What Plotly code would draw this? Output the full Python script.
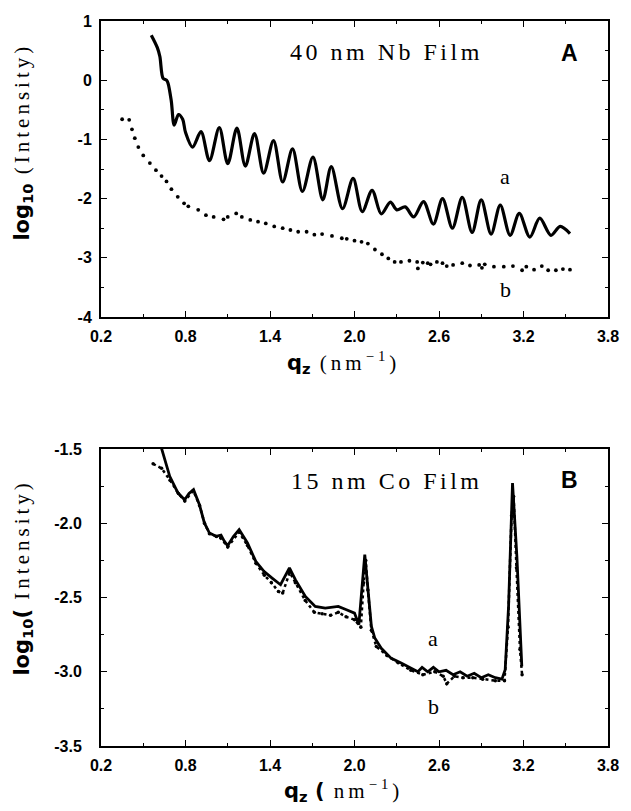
import plotly.graph_objects as go

# ---------------- data ----------------
# Panel A, curve a (solid): qz (nm^-1), log10(I)
qa_A = [0.557, 0.60, 0.618, 0.641, 0.665, 0.676, 0.699, 0.72, 0.75, 0.78, 0.80,
        0.85, 0.91, 0.97, 1.04, 1.10, 1.165, 1.225, 1.29, 1.355, 1.425, 1.49,
        1.56, 1.63, 1.705, 1.775, 1.835, 1.915, 1.99, 2.055, 2.125, 2.19, 2.255,
        2.30, 2.36, 2.42, 2.49, 2.56, 2.625, 2.695, 2.765, 2.835, 2.90, 2.97,
        3.035, 3.105, 3.17, 3.245, 3.315, 3.395, 3.46, 3.53]
ia_A = [0.76, 0.55, 0.40, 0.03, 0.00, -0.05, -0.35, -0.76, -0.58, -0.66, -0.88,
        -1.13, -0.87, -1.36, -0.80, -1.41, -0.81, -1.45, -0.90, -1.57, -1.02, -1.72,
        -1.16, -1.88, -1.30, -2.02, -1.46, -2.17, -1.66, -2.22, -1.86, -2.26, -2.06,
        -2.19, -2.14, -2.31, -2.05, -2.43, -2.00, -2.50, -1.98, -2.57, -2.02, -2.60,
        -2.11, -2.62, -2.25, -2.65, -2.33, -2.62, -2.47, -2.59]

# Panel A, curve b (dotted)
qb_A = [0.35, 0.40, 0.42, 0.44, 0.465, 0.50, 0.547, 0.59, 0.63, 0.665, 0.70, 0.745,
        0.79, 0.82, 0.89, 0.945, 1.00, 1.07, 1.10, 1.16, 1.20, 1.26, 1.315, 1.37,
        1.43, 1.49, 1.545, 1.60, 1.66, 1.715, 1.77, 1.84, 1.91, 1.945, 2.00, 2.05,
        2.095, 2.145, 2.195, 2.24, 2.285, 2.33, 2.39, 2.445, 2.45, 2.485, 2.52,
        2.54, 2.585, 2.625, 2.655, 2.70, 2.765, 2.82, 2.885, 2.905, 2.925, 2.99,
        3.06, 3.125, 3.19, 3.22, 3.275, 3.33, 3.375, 3.43, 3.48, 3.53]
ib_A = [-0.66, -0.67, -0.83, -0.98, -1.13, -1.27, -1.40, -1.52, -1.62, -1.71, -1.84,
        -1.97, -2.08, -2.13, -2.19, -2.28, -2.31, -2.35, -2.31, -2.25, -2.31, -2.36,
        -2.39, -2.42, -2.47, -2.50, -2.53, -2.56, -2.56, -2.61, -2.60, -2.63, -2.67,
        -2.68, -2.71, -2.73, -2.76, -2.86, -2.94, -3.01, -3.07, -3.07, -3.05, -3.07,
        -3.18, -3.08, -3.09, -3.11, -3.07, -3.09, -3.14, -3.12, -3.09, -3.13, -3.12,
        -3.17, -3.11, -3.15, -3.15, -3.14, -3.21, -3.15, -3.20, -3.14, -3.21, -3.21,
        -3.19, -3.20]

# Panel B, curve a (solid)
qa_B = [0.625, 0.688, 0.747, 0.794, 0.825, 0.857, 0.899, 0.934, 0.97, 1.017, 1.052,
        1.075, 1.099, 1.14, 1.181, 1.24, 1.299, 1.357, 1.415, 1.475, 1.538, 1.58,
        1.651, 1.721, 1.792, 1.85, 1.885, 1.943, 2.0, 2.031, 2.073, 2.12, 2.144,
        2.19, 2.261, 2.331, 2.39, 2.425, 2.45, 2.48, 2.52, 2.56, 2.60, 2.65, 2.70,
        2.75, 2.80, 2.85, 2.90, 2.95, 3.00, 3.047, 3.07, 3.094, 3.122, 3.153,
        3.176, 3.188]
ia_B = [-1.48, -1.684, -1.797, -1.842, -1.80, -1.774, -1.875, -1.998, -2.066, -2.088,
        -2.080, -2.12, -2.151, -2.09, -2.043, -2.133, -2.257, -2.324, -2.369, -2.414,
        -2.301, -2.38, -2.493, -2.56, -2.571, -2.565, -2.56, -2.582, -2.605, -2.683,
        -2.212, -2.695, -2.773, -2.842, -2.91, -2.941, -2.97, -2.986, -3.00, -2.97,
        -3.00, -2.97, -3.00, -2.99, -3.02, -3.00, -3.03, -3.01, -3.04, -3.02, -3.04,
        -3.05, -2.986, -2.56, -1.729, -2.223, -2.786, -2.964]

# Panel B, curve b (dots)
qb_B = [0.57, 0.63, 0.69, 0.75, 0.795, 0.855, 0.90, 0.935, 0.97, 1.02, 1.05, 1.10,
        1.18, 1.24, 1.30, 1.36, 1.41, 1.46, 1.49, 1.54, 1.58, 1.65, 1.715, 1.77,
        1.83, 1.885, 1.94, 2.00, 2.045, 2.065, 2.08, 2.095, 2.12, 2.155, 2.23, 2.31,
        2.40, 2.485, 2.57, 2.63, 2.655, 2.71, 2.77, 2.84, 2.91, 3.00, 3.065, 3.09,
        3.115, 3.13, 3.15, 3.175, 3.19]
ib_B = [-1.60, -1.63, -1.71, -1.80, -1.85, -1.78, -1.88, -2.00, -2.07, -2.09, -2.10,
        -2.16, -2.06, -2.15, -2.27, -2.35, -2.40, -2.46, -2.47, -2.33, -2.40, -2.52,
        -2.60, -2.61, -2.62, -2.60, -2.63, -2.65, -2.70, -2.40, -2.25, -2.45, -2.72,
        -2.83, -2.89, -2.94, -2.99, -3.02, -3.00, -3.03, -3.08, -3.03, -3.04, -3.04,
        -3.05, -3.06, -3.06, -2.70, -1.95, -1.82, -2.30, -2.85, -3.02]

# ticks
x_ticks = [0.2, 0.8, 1.4, 2.0, 2.6, 3.2, 3.8]
x_ticktext = ["0.2", "0.8", "1.4", "2.0", "2.6", "3.2", "3.8"]
x_minor = [0.5, 1.1, 1.7, 2.3, 2.9, 3.5]
yA_ticks = [1, 0, -1, -2, -3, -4]
yA_ticktext = ["1", "0", "-1", "-2", "-3", "-4"]
yA_minor = [0.5, -0.5, -1.5, -2.5, -3.5]
yB_ticks = [-1.5, -2.0, -2.5, -3.0, -3.5]
yB_ticktext = ["-1.5", "-2.0", "-2.5", "-3.0", "-3.5"]
yB_minor = [-1.75, -2.25, -2.75, -3.25]

# ---------------- figure ----------------
W, H = 631, 811
ML, MR, MT, MB = 101, 19, 21, 65
PW, PH = W - ML - MR, H - MT - MB


def px(xp):
    return (xp - ML) / PW


def py(yp):
    return (H - MB - yp) / PH


SANS = "DejaVu Sans"
SERIF = "Liberation Serif"
TICKFONT = dict(family="Liberation Sans", size=16, color="black", weight="bold")

fig = go.Figure()
fig.add_trace(go.Scatter(x=qa_A, y=ia_A, mode="lines", xaxis="x", yaxis="y",
                         line=dict(color="black", width=3.2, shape="spline", smoothing=0.9),
                         showlegend=False))
fig.add_trace(go.Scatter(x=qb_A, y=ib_A, mode="markers", xaxis="x", yaxis="y",
                         marker=dict(color="black", size=3.8), showlegend=False))
fig.add_trace(go.Scatter(x=qb_B, y=ib_B, mode="lines+markers", xaxis="x2", yaxis="y2",
                         line=dict(color="black", width=2.5, dash="dot"),
                         marker=dict(color="black", size=3.5), showlegend=False))
fig.add_trace(go.Scatter(x=qa_B, y=ia_B, mode="lines", xaxis="x2", yaxis="y2",
                         line=dict(color="black", width=2.8), showlegend=False))

common_axis = dict(showline=True, linecolor="black", linewidth=2, mirror="allticks",
                   ticks="inside", ticklen=6, tickwidth=1.2, tickcolor="black",
                   showgrid=False, zeroline=False, tickfont=TICKFONT,
                   tickmode="array")

fig.update_layout(
    width=W, height=H, margin=dict(l=ML, r=MR, t=MT, b=MB),
    paper_bgcolor="white", plot_bgcolor="white",
    xaxis=dict(domain=[0, 1], anchor="y", range=[0.2, 3.8], tickvals=x_ticks,
               ticktext=x_ticktext, ticklabelstandoff=4,
               minor=dict(tickvals=x_minor, ticks="inside", ticklen=3, tickcolor="black"),
               **common_axis),
    yaxis=dict(domain=[py(317), 1], anchor="x", range=[-4, 1], tickvals=yA_ticks,
               ticktext=yA_ticktext, ticklabelstandoff=4,
               minor=dict(tickvals=yA_minor, ticks="inside", ticklen=3, tickcolor="black"),
               **common_axis),
    xaxis2=dict(domain=[0, 1], anchor="y2", range=[0.2, 3.8], tickvals=x_ticks,
                ticktext=x_ticktext, ticklabelstandoff=4,
                minor=dict(tickvals=x_minor, ticks="inside", ticklen=3, tickcolor="black"),
                **common_axis),
    yaxis2=dict(domain=[0, py(449)], anchor="x2", range=[-3.5, -1.5], tickvals=yB_ticks,
                ticktext=yB_ticktext, ticklabelstandoff=14,
                minor=dict(tickvals=yB_minor, ticks="inside", ticklen=3, tickcolor="black"),
                **common_axis),
)

TS = "font-size:21px"
LS_T = "letter-spacing:4px"
LS_P = "letter-spacing:3.5px"
ann = []
# axis titles
ann.append(dict(xref="paper", yref="paper", x=px(345), y=py(362), xanchor="center", yanchor="middle",
                text=f"<span style='font-family:{SANS};font-weight:bold;{TS}'>q<sub>z</sub></span>"
                     f"<span style='font-family:{SERIF};{TS};{LS_T}'> (nm<sup>−1</sup>)</span>",
                showarrow=False, font=dict(size=21, color="black")))
ann.append(dict(xref="paper", yref="paper", x=px(345), y=py(790), xanchor="center", yanchor="middle",
                text=f"<span style='font-family:{SANS};font-weight:bold;{TS}'>q<sub>z</sub> (</span>"
                     f"<span style='font-family:{SERIF};{TS};{LS_T}'> nm<sup>−1</sup>)</span>",
                showarrow=False, font=dict(size=21, color="black")))
ann.append(dict(xref="paper", yref="paper", x=px(22), y=py(142), xanchor="center", yanchor="middle",
                textangle=-90,
                text=f"<span style='font-family:{SANS};font-weight:bold;{TS}'>log<sub>10</sub></span>"
                     f"<span style='font-family:{SERIF};{TS};{LS_T}'> (Intensity)</span>",
                showarrow=False, font=dict(size=21, color="black")))
ann.append(dict(xref="paper", yref="paper", x=px(22), y=py(578), xanchor="center", yanchor="middle",
                textangle=-90,
                text=f"<span style='font-family:{SANS};font-weight:bold;{TS}'>log<sub>10</sub>(</span>"
                     f"<span style='font-family:{SERIF};{TS};{LS_T}'> Intensity)</span>",
                showarrow=False, font=dict(size=21, color="black")))
# in-plot labels
SERIF_FONT = dict(family=SERIF, size=24, color="black")
ann.append(dict(xref="x", yref="y", x=2.23, y=0.476, xanchor="center", yanchor="middle",
                text=f"<span style='{LS_P}'>40 nm Nb Film</span>", showarrow=False, font=SERIF_FONT))
ann.append(dict(xref="x", yref="y", x=3.53, y=0.46, xanchor="center", yanchor="middle",
                text="<b>A</b>", showarrow=False, font=dict(family="Liberation Sans", size=23, color="black")))
ann.append(dict(xref="x", yref="y", x=3.07, y=-1.62, text="a", showarrow=False,
                font=dict(family=SERIF, size=22, color="black")))
ann.append(dict(xref="x", yref="y", x=3.07, y=-3.53, text="b", showarrow=False,
                font=dict(family=SERIF, size=22, color="black")))
ann.append(dict(xref="x2", yref="y2", x=2.23, y=-1.713, xanchor="center", yanchor="middle",
                text=f"<span style='{LS_P}'>15 nm Co Film</span>", showarrow=False, font=SERIF_FONT))
ann.append(dict(xref="x2", yref="y2", x=3.53, y=-1.707, xanchor="center", yanchor="middle",
                text="<b>B</b>", showarrow=False, font=dict(family="Liberation Sans", size=23, color="black")))
ann.append(dict(xref="x2", yref="y2", x=2.56, y=-2.777, text="a", showarrow=False,
                font=dict(family=SERIF, size=22, color="black")))
ann.append(dict(xref="x2", yref="y2", x=2.56, y=-3.235, text="b", showarrow=False,
                font=dict(family=SERIF, size=22, color="black")))
fig.update_layout(annotations=ann)

fig.write_html("out.html")
